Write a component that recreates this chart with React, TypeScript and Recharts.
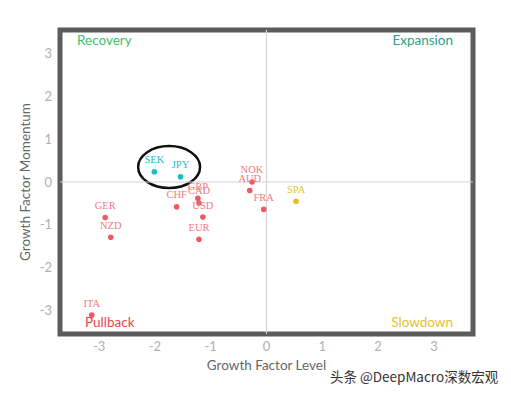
import React from "react";
import {
  ScatterChart,
  Scatter,
  XAxis,
  YAxis,
  ReferenceLine,
  ReferenceArea,
  LabelList,
  Label,
} from "recharts";

// growth factor level (x) / momentum (y) by market
const redNames = ["GER", "NZD", "ITA", "CHF", "GBP", "CAD", "USD", "EUR", "NOK", "AUD", "FRA"];
const redLevel = [-2.89, -2.79, -3.13, -1.61, -1.23, -1.21, -1.14, -1.21, -0.26, -0.3, -0.05];
const redMomentum = [-0.83, -1.29, -3.11, -0.58, -0.38, -0.49, -0.82, -1.34, 0.0, -0.2, -0.64];

const cyanNames = ["SEK", "JPY"];
const cyanLevel = [-2.01, -1.54];
const cyanMomentum = [0.24, 0.12];

const yellowNames = ["SPA"];
const yellowLevel = [0.53];
const yellowMomentum = [-0.45];

const xTicks = [-3, -2, -1, 0, 1, 2, 3];
const yTicks = [-3, -2, -1, 0, 1, 2, 3];

const toRows = (names: string[], xs: number[], ys: number[]) =>
  names.map((name, i) => ({ name, x: xs[i], y: ys[i] }));

const redData = toRows(redNames, redLevel, redMomentum);
const cyanData = toRows(cyanNames, cyanLevel, cyanMomentum);
const yellowData = toRows(yellowNames, yellowLevel, yellowMomentum);

const X_DOMAIN: [number, number] = [-3.7, 3.7];
const Y_DOMAIN: [number, number] = [-3.55, 3.55];

const dot = (color: string) => (p: any) => <circle cx={p.cx} cy={p.cy} r={2.8} fill={color} />;

// black ring drawn around the SEK / JPY pair
const Ellipse = (p: any) => (
  <ellipse
    cx={p.x + p.width / 2}
    cy={p.y + p.height / 2}
    rx={Math.abs(p.width) / 2}
    ry={Math.abs(p.height) / 2}
    fill="none"
    stroke="#111"
    strokeWidth={2.5}
  />
);

const quadFont = { fontFamily: "Lato", fontSize: 13.5 };

export default function App() {
  return (
    <div style={{ position: "absolute", left: 0, top: 0, width: 511, height: 393, background: "#fff" }}>
      <ScatterChart width={511} height={393} margin={{ top: 30, right: 38, bottom: 19, left: 0 }}>
        <XAxis
          type="number"
          dataKey="x"
          domain={X_DOMAIN}
          ticks={xTicks}
          axisLine={false}
          tickLine={false}
          tick={{ fill: "#b0b0b0", fontSize: 13, fontFamily: "Lato" }}
          height={40}
        >
          <Label
            value="Growth Factor Level"
            position="insideBottom"
            offset={4}
            style={{ fill: "#666", fontSize: 13.5, fontFamily: "Lato" }}
          />
        </XAxis>
        <YAxis
          type="number"
          dataKey="y"
          domain={Y_DOMAIN}
          ticks={yTicks}
          axisLine={false}
          tickLine={false}
          tick={{ fill: "#b0b0b0", fontSize: 13, fontFamily: "Lato" }}
          width={60}
        >
          <Label
            value="Growth Factor Momentum"
            angle={-90}
            position="insideLeft"
            offset={25}
            style={{ fill: "#666", fontSize: 13.5, fontFamily: "Lato", textAnchor: "middle" }}
          />
        </YAxis>

        <ReferenceLine x={0} stroke="#d4d4d4" strokeWidth={1.2} />
        <ReferenceLine y={0} stroke="#d4d4d4" strokeWidth={1.2} />

        <ReferenceArea
          x1={X_DOMAIN[0]}
          x2={X_DOMAIN[1]}
          y1={Y_DOMAIN[0]}
          y2={Y_DOMAIN[1]}
          fill="none"
          fillOpacity={0}
          stroke="#5c5c5c"
          strokeWidth={5}
          ifOverflow="visible"
        >
          <Label value="Recovery" position="insideTopLeft" offset={4} dx={13} dy={1} style={{ ...quadFont, fill: "#3cc36f" }} />
          <Label value="Expansion" position="insideTopRight" offset={4} dx={-16} dy={1} style={{ ...quadFont, fill: "#27a386" }} />
          <Label value="Pullback" position="insideBottomLeft" offset={4} dx={21} dy={-3} style={{ ...quadFont, fill: "#e5454d" }} />
          <Label value="Slowdown" position="insideBottomRight" offset={4} dx={-16} dy={-3} style={{ ...quadFont, fill: "#e8c02c" }} />
        </ReferenceArea>

        <ReferenceArea x1={-2.3} x2={-1.19} y1={-0.14} y2={0.84} shape={Ellipse} ifOverflow="visible" />

        <Scatter data={redData} shape={dot("#ef5a62")} isAnimationActive={false}>
          <LabelList dataKey="name" position="top" offset={4} fill="#f07a80" fontSize={10.5} fontFamily="Liberation Serif" />
        </Scatter>
        <Scatter data={cyanData} shape={dot("#1bbdc5")} isAnimationActive={false}>
          <LabelList dataKey="name" position="top" offset={4} fill="#22bcc4" fontSize={10.5} fontFamily="Liberation Serif" />
        </Scatter>
        <Scatter data={yellowData} shape={dot("#e3bf1f")} isAnimationActive={false}>
          <LabelList dataKey="name" position="top" offset={4} fill="#e6c02a" fontSize={10.5} fontFamily="Liberation Serif" />
        </Scatter>
      </ScatterChart>
      <div
        style={{
          position: "absolute",
          left: 330,
          top: 366,
          fontFamily: "Noto Sans CJK SC",
          fontSize: 13.5,
          color: "#333",
          whiteSpace: "nowrap",
          textShadow: "0 0 2px #fff",
        }}
      >
        头条 @DeepMacro深数宏观
      </div>
    </div>
  );
}
